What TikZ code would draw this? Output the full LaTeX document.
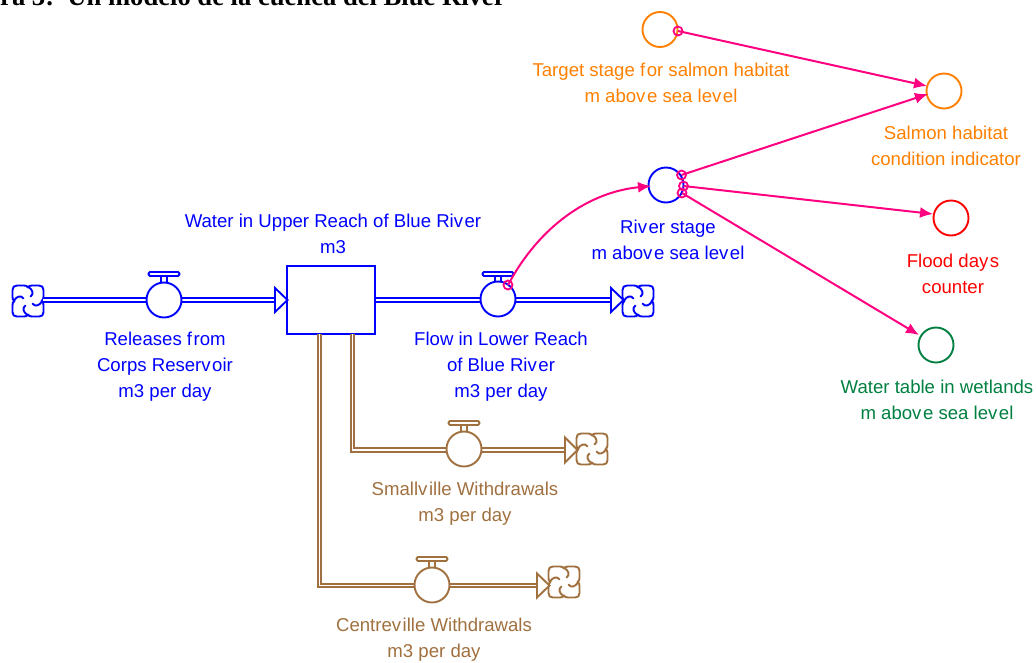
\documentclass[tikz,border=0pt]{standalone}
\usepackage{fontspec}
\setmainfont{Liberation Sans}
\newfontfamily\titlefont{Liberation Serif}
\usetikzlibrary{arrows.meta}
\definecolor{cblue}{HTML}{0000FF}
\definecolor{cbrown}{HTML}{A0703F}
\definecolor{corange}{HTML}{FF8000}
\definecolor{cred}{HTML}{FF0000}
\definecolor{cgreen}{HTML}{008040}
\definecolor{cpink}{HTML}{FF0080}
\newcommand{\kv}{\kern1.5pt}
\tikzset{
  conv/.style={circle,draw=#1,line width=1.9pt,minimum size=35pt,inner sep=0pt,fill=white},
  lbl/.style={text=#1,font=\fontsize{18.6}{26}\selectfont,align=center,inner sep=0pt},
  pipe/.style={draw=#1,line width=5.6pt,line cap=butt},
  pipein/.style={draw=white,line width=1.6pt,line cap=butt},
  tap/.style={circle,draw=cpink,line width=1.8pt,minimum size=9pt,inner sep=0pt},
  infl/.style={draw=cpink,line width=2pt,-{Latex[length=13pt,width=11pt]}},
}
\newcommand{\cloudat}[4]{% name x y colour
  \coordinate (#1) at (#2,#3);
  \begin{scope}[shift={(#2,#3)},draw=#4,line width=1.9pt,line join=round,line cap=round]
    \fill[white] (-15,-15) rectangle (15,15);
    \foreach \r in {0,90,180,270}{
      \begin{scope}[rotate=\r]
        \draw (0,-13.5) .. controls (1,-15) and (2,-15.5) .. (4,-15.5) -- (11,-15.5) .. controls (14,-15.5) and (15.5,-14) .. (15.5,-11) -- (15.5,-4) .. controls (15.5,-2) and (15,-1) .. (13.5,0);
        \draw (0.5,-14) .. controls (5,-11) and (6,-7) .. (2.5,-4.5);
      \end{scope}
    }
  \end{scope}
}
\newcommand{\headat}[4]{% tip x, y, half-height, colour
  \draw[#4,line width=1.9pt,fill=white,line join=miter] (#1-12.5,#2-#3) -- (#1,#2) -- (#1-12.5,#2+#3) -- cycle;
}
\newcommand{\handle}[3]{% x y-of-valve-centre colour
  \draw[#3,line width=1.8pt] (#1-3,#2-17) -- (#1-3,#2-24) (#1+3,#2-17) -- (#1+3,#2-24);
  \draw[#3,line width=1.8pt,fill=white,rounded corners=1.5pt] (#1-15.5,#2-28) rectangle (#1+15.5,#2-24);
}
\newcommand{\flowpipe}[2]{% path, colour
  \draw[pipe=#2] #1; \draw[pipein] #1;
}
\begin{document}
\begin{tikzpicture}[x=1pt,y=-1pt]
\useasboundingbox (0,0) rectangle (1036,662);
\clip (0,0) rectangle (1036,662);
\node[anchor=base west,inner sep=0pt,font=\titlefont\bfseries\fontsize{26.6}{26.6}\selectfont] (title) at (0,5) {ra 3:\ \ Un modelo de la cuenca del Blue River};

% nodes
\cloudat{cl1}{28}{301}{cblue}
\cloudat{cl2}{638}{301}{cblue}
\cloudat{cl3}{592}{449}{cbrown}
\cloudat{cl4}{564}{582}{cbrown}
\node[draw=cblue,line width=1.9pt,minimum width=88pt,minimum height=68pt,inner sep=0pt,fill=white] (stock) at (331,300) {};
\coordinate (sa) at (352.5,334);
\coordinate (sb) at (319.5,334);
\coordinate (ca) at (352.5,450);
\coordinate (cb) at (319.5,585.5);
\coordinate (h1) at (275,300);
\coordinate (h2) at (611,300);
\coordinate (h3) at (565,450);
\coordinate (h4) at (537,585.5);
\coordinate (o1) at (43,300);

% pipes
\flowpipe{(o1) -- (h1)}{cblue}
\flowpipe{(stock.east) -- (h2)}{cblue}
\flowpipe{(sa) -- (ca) -- (h3)}{cbrown}
\flowpipe{(sb) -- (cb) -- (h4)}{cbrown}
\headat{287.5}{300}{12}{cblue}
\headat{623.5}{300}{12}{cblue}
\headat{577.5}{450}{12.5}{cbrown}
\headat{549.5}{585.5}{12}{cbrown}

% valves
\handle{164}{300}{cblue}
\handle{498}{300}{cblue}
\handle{464}{449}{cbrown}
\handle{432}{585}{cbrown}
\node[conv=cblue] (v1) at (164,300) {};
\node[conv=cblue] (v2) at (498,299) {};
\node[conv=cbrown] (v3) at (464,449) {};
\node[conv=cbrown] (v4) at (432,585) {};

% converters
\node[conv=corange] (target) at (660,29.5) {};
\node[conv=corange] (salmon) at (944,91) {};
\node[conv=cblue] (stage) at (666,185) {};
\node[conv=cred] (flood) at (951,218) {};
\node[conv=cgreen] (water) at (936,345) {};

% influence taps
\node[tap] (t1) at (508,285) {};
\node[tap] (t2) at (678,31) {};
\node[tap] (t3) at (681.5,175) {};
\node[tap] (t4) at (683.5,186) {};
\node[tap] (t5) at (682,193) {};

% influences
\coordinate (e1) at (651,186);
\coordinate (e2) at (927,86);
\coordinate (e3) at (928,94);
\coordinate (e4) at (933,214);
\coordinate (e5) at (919,335);
\draw[infl] (t1.center) .. controls (540,225) and (590,192) .. (e1);
\draw[infl] (t2.center) -- (e2);
\draw[infl] (t3.center) -- (e3);
\draw[infl] (t4.center) -- (e4);
\draw[infl] (t5.center) -- (e5);

% labels
\node[lbl=cblue] (l1) at (333,233.5) {Water in Upper Reach of Blue Riv\kv er\\m3};
\node[lbl=cblue] (l2) at (165,367) {Releases f\kv rom\\Corps Reserv\kv oir\\m3 per day};
\node[lbl=cblue] (l3) at (501,367) {Flow in Lower Reach\\of Blue Riv\kv er\\m3 per day};
\node[lbl=cbrown] (l4) at (465,504) {Smallv\kv ille Withdrawals\\m3 per day};
\node[lbl=cbrown] (l5) at (434,640) {Centrev\kv ille Withdrawals\\m3 per day};
\node[lbl=cblue] (l6) at (668,239.5) {Riv\kv er stage\\m abov\kv e sea lev\kv el};
\node[lbl=corange] (l7) at (661,82.5) {Target stage f\kv or salmon habitat\\m abov\kv e sea lev\kv el};
\node[lbl=corange] (l8) at (946,145.5) {Salmon habitat\\condition indicator};
\node[lbl=cred] (l9) at (953,273.5) {Flood day\kv s\\counter};
\node[lbl=cgreen] (l10) at (937,399.5) {Water table in wetlands\\m abov\kv e sea lev\kv el};
\end{tikzpicture}
\end{document}
